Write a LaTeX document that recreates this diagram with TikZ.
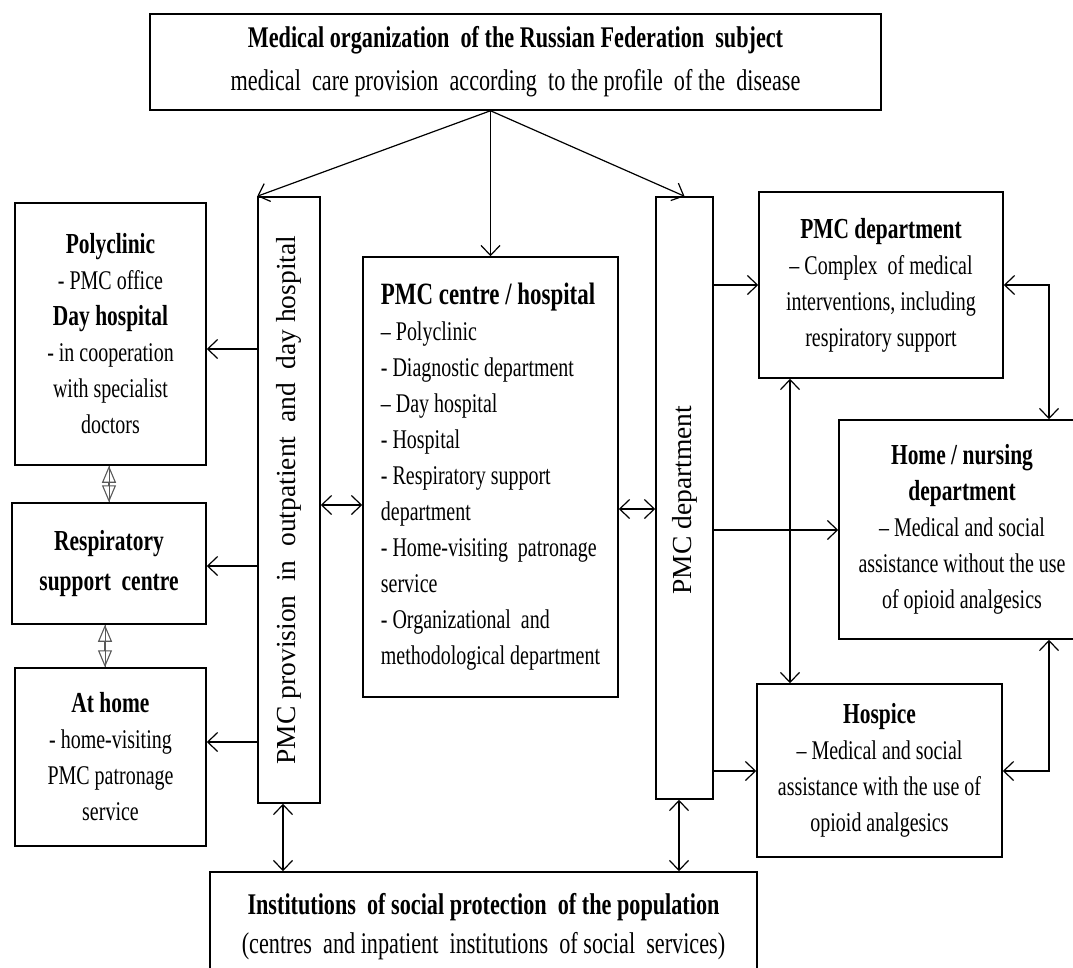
\documentclass[tikz,border=0pt]{standalone}
\usepackage{fontspec}
\setmainfont{Liberation Serif}[FakeStretch=0.74]
\newfontfamily\barfont{Liberation Serif}
\usetikzlibrary{arrows.meta}

\newcommand{\hd}[1]{{\fontsize{29}{36}\selectfont\bfseries #1}}
\newcommand{\gap}{\ \ }

\tikzset{
  box/.style={draw, line width=1.5pt, inner sep=0pt, align=center,
    font=\fontsize{27}{36}\selectfont},
  bar/.style={draw, line width=1.5pt, inner sep=0pt},
  bartext/.style={rotate=90, inner sep=0pt, font=\barfont\fontsize{27.5}{36}\selectfont},
  arr/.style={line width=1.2pt, -{Straight Barb[length=10pt,width=19pt,line width=1.2pt]}},
  arrtwo/.style={line width=1.2pt, {Straight Barb[length=10pt,width=19pt,line width=1.2pt]}-{Straight Barb[length=10pt,width=19pt,line width=1.2pt]}},
  dbl/.style={draw=black!65, line width=1.1pt,
    {Triangle[open,length=17pt,width=14pt]}-{Triangle[open,length=17pt,width=14pt]},
    postaction={draw=black!65, line width=0.9pt, -}}
}

\begin{document}
\begin{tikzpicture}[x=1pt, y=-1pt]
  \useasboundingbox (0,0) rectangle (1073,967);

  % top organisation
  \node[box, minimum width=731pt, minimum height=96pt, font=\fontsize{30}{43}\selectfont] (top) at (515.5,62)
    {\textbf{Medical organization\gap of the Russian Federation\gap subject}\\
     medical\gap care provision\gap according\gap to the profile\gap of the\gap disease};

  % left column
  \node[box, minimum width=191pt, minimum height=262pt] (poly) at (110.5,334)
    {\hd{Polyclinic}\\ - PMC office\\ \hd{Day hospital}\\ - in cooperation\\ with specialist\\ doctors};
  \node[box, minimum width=194pt, minimum height=121pt, font=\fontsize{27}{40}\selectfont] (resp) at (109,563.5)
    {\hd{Respiratory}\\ \hd{support\gap centre}};
  \node[box, minimum width=191pt, minimum height=178pt] (athome) at (110.5,757)
    {\hd{At home}\\ - home-visiting\\ PMC patronage\\ service};

  % bars
  \node[bar, minimum width=62pt, minimum height=606pt] (leftbar) at (289,500) {};
  \node[bartext] (leftbartext) at (leftbar) {PMC provision\gap in\gap outpatient\gap and\gap day hospital};
  \node[bar, minimum width=57pt, minimum height=602pt] (rightbar) at (684.5,498) {};
  \node[bartext] (rightbartext) at ([yshift=-2pt]rightbar.center) {PMC department};

  % centre
  \node[box, align=left, minimum width=255pt, minimum height=440pt] (centre) at (490.5,477)
    {{\fontsize{31}{36}\selectfont\bfseries PMC centre / hospital}\\
     – Polyclinic\\ - Diagnostic department\\ – Day hospital\\ - Hospital\\
     - Respiratory support\\ department\\ - Home-visiting\gap patronage\\ service\\
     - Organizational\gap and\\ methodological department};

  % right column
  \node[box, minimum width=244pt, minimum height=186pt] (pmcdept) at (881,285)
    {\hd{PMC department}\\ – Complex\gap of medical\\ interventions, including\\ respiratory support};
  \node[box, minimum width=246pt, minimum height=219pt] (homenurs) at (962,529.5)
    {\hd{Home / nursing}\\ \hd{department}\\ – Medical and social\\ assistance without the use\\ of opioid analgesics};
  \node[box, minimum width=245pt, minimum height=173pt] (hospice) at (879.5,770.5)
    {\hd{Hospice}\\ – Medical and social\\ assistance with the use of\\ opioid analgesics};

  % bottom
  \node[box, minimum width=547pt, minimum height=109pt, font=\fontsize{30}{39}\selectfont] (social) at (483.5,926.5)
    {\textbf{Institutions\gap of social protection\gap of the population}\\
     (centres\gap and inpatient\gap institutions\gap of social\gap services)};

  % rows and columns of the connectors
  \coordinate (fork) at (top.south -| centre.north);
  \coordinate (rPoly) at (0,349);
  \coordinate (rResp) at (0,566);
  \coordinate (rHome) at (0,742);
  \coordinate (rMidL) at (0,505);
  \coordinate (rMidR) at (0,509);
  \coordinate (rDept) at (0,285);
  \coordinate (rNurs) at (0,530);
  \coordinate (rHosp) at (0,771);
  \coordinate (cLink) at (790,0);
  \coordinate (cOut) at (1049,0);
  \coordinate (cSocL) at (283,0);
  \coordinate (cSocR) at (679,0);
  \coordinate (cUp) at (109,0);
  \coordinate (cDown) at (105,0);

  \draw[arr] (fork) -- (leftbar.north west);
  \draw[arr] (fork) -- (centre.north);
  \draw[arr] (fork) -- (rightbar.north);

  \draw[arr] (leftbar.west |- rPoly) -- (poly.east |- rPoly);
  \draw[arr] (leftbar.west |- rResp) -- (resp.east |- rResp);
  \draw[arr] (leftbar.west |- rHome) -- (athome.east |- rHome);
  \draw[dbl] (poly.south -| cUp) -- (resp.north -| cUp);
  \draw[dbl] (resp.south -| cDown) -- (athome.north -| cDown);

  \draw[arrtwo] (leftbar.east |- rMidL) -- (centre.west |- rMidL);
  \draw[arrtwo] (centre.east |- rMidR) -- (rightbar.west |- rMidR);

  \draw[arr] (rightbar.east |- rDept) -- (pmcdept.west |- rDept);
  \draw[arr] (rightbar.east |- rNurs) -- (homenurs.west |- rNurs);
  \draw[arr] (rightbar.east |- rHosp) -- (hospice.west |- rHosp);
  \draw[arrtwo] (pmcdept.south -| cLink) -- (hospice.north -| cLink);
  \draw[arrtwo] (pmcdept.east |- rDept) -| (homenurs.north -| cOut);
  \draw[arrtwo] (homenurs.south -| cOut) |- (hospice.east |- rHosp);

  \draw[arrtwo] (leftbar.south -| cSocL) -- (social.north -| cSocL);
  \draw[arrtwo] (rightbar.south -| cSocR) -- (social.north -| cSocR);
\end{tikzpicture}
\end{document}
